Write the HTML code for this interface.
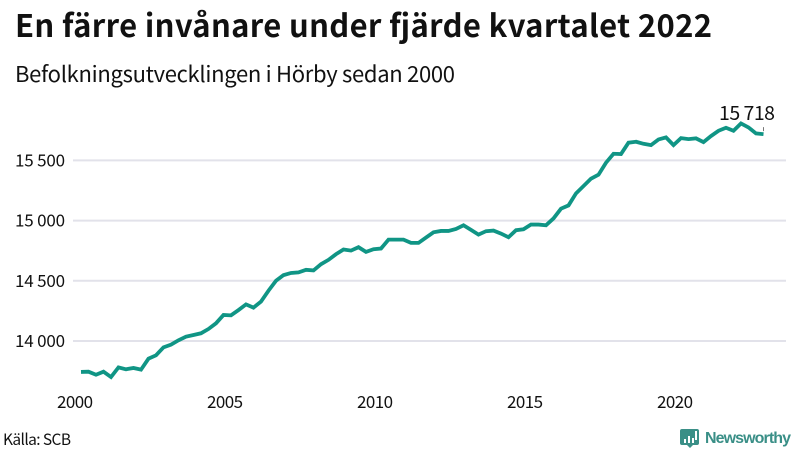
<!DOCTYPE html>
<html lang="sv">
<head>
<meta charset="utf-8">
<title>En färre invånare under fjärde kvartalet 2022</title>
<style>
html,body{margin:0;padding:0;background:#fff;width:800px;height:450px;overflow:hidden}
svg{display:block}
text{font-family:"Noto Sans CJK JP","Liberation Sans",sans-serif;fill:#111}
</style>
</head>
<body>
<svg id="chart" xmlns="http://www.w3.org/2000/svg" width="800" height="450" viewBox="0 0 800 450">
<text x="15" y="37" font-size="31" font-weight="700" textLength="697" lengthAdjust="spacing">En färre invånare under fjärde kvartalet 2022</text>
<text x="15" y="82" font-size="22" textLength="440" lengthAdjust="spacing">Befolkningsutvecklingen i Hörby sedan 2000</text>
<g id="grid"></g>
<g id="yaxis"></g>
<g id="xaxis"></g>
<g id="marks"></g>
<text x="3" y="445" font-size="15.5" textLength="68" lengthAdjust="spacing">Källa: SCB</text>
<g>
<path d="M682 429h15a2 2 0 0 1 2 2v12a2 2 0 0 1-2 2h-4l-3 3-3-3h-5a2 2 0 0 1-2-2v-12a2 2 0 0 1 2-2z" fill="#3a8f87"/>
<path d="M684 439h2v4h-2zM688 436h2v7h-2zM692 438h2v5h-2zM695 431h2v9h-2z" fill="#fff"/>
<text x="705" y="443" font-size="16" font-weight="700" style="font-family:'Liberation Sans',sans-serif;fill:#3a8f87" textLength="86" lengthAdjust="spacing">Newsworthy</text>
</g>
</svg>
<script>
const startYear = 2000;
const quartersPerYear = 4;
const population = [
13743,13745,13720,13745,13701,13781,13765,13776,13762,13853,13881,13947,
13970,14006,14036,14050,14064,14100,14147,14216,14213,14257,14304,14277,
14327,14418,14501,14547,14565,14570,14591,14586,14638,14674,14721,14760,
14751,14779,14740,14762,14768,14842,14842,14842,14815,14815,14859,14903,
14914,14914,14931,14961,14923,14884,14912,14917,14892,14862,14920,14928,
14967,14967,14961,15018,15099,15126,15226,15287,15348,15381,15481,15555,
15553,15647,15655,15638,15627,15674,15691,15627,15685,15677,15683,15652,
15702,15746,15771,15746,15807,15774,15724,15718
];
const yTicks = [14000,14500,15000,15500];
const yTickLabels = ["14 000","14 500","15 000","15 500"];
const xTicks = [2000,2005,2010,2015,2020];
const xTickLabels = ["2000","2005","2010","2015","2020"];
const lastLabel = "15 718";

const NS = "http://www.w3.org/2000/svg";
function xScale(yearFloat){ return 81 + (yearFloat - startYear) * 30; }
function yScale(v){ return 341 - (v - 14000) * 0.1204; }
function make(tag, attrs, parent){
  const el = document.createElementNS(NS, tag);
  for (const k in attrs) el.setAttribute(k, attrs[k]);
  parent.appendChild(el);
  return el;
}
const grid = document.getElementById("grid");
const yaxis = document.getElementById("yaxis");
const xaxis = document.getElementById("xaxis");
const marks = document.getElementById("marks");

yTicks.forEach(function(t, i){
  const ln = make("line", {x1:73, x2:786, y1:yScale(t), y2:yScale(t), stroke:"#e2e2ea", "stroke-width":2}, grid);
  
  
  const tx = make("text", {x:15, y:yScale(t)+6, "font-size":17, textLength:50, lengthAdjust:"spacing"}, yaxis);
  
  
  tx.textContent = yTickLabels[i];
});
xTicks.forEach(function(t, i){
  const tx = make("text", {x:xScale(t)-24, y:408, "font-size":17, textLength:36, lengthAdjust:"spacing"}, xaxis);
  
  
  tx.textContent = xTickLabels[i];
});
const pts = population.map(function(v, i){
  return xScale(startYear + i / quartersPerYear).toFixed(2) + "," + yScale(v).toFixed(2);
}).join(" ");
const line = make("polyline", {points:pts, fill:"none", stroke:"#109585", "stroke-width":3.8, "stroke-linejoin":"miter"}, marks);



const lastX = xScale(startYear + (population.length - 1) / quartersPerYear);
const lastY = yScale(population[population.length - 1]);
const tick = make("line", {x1:lastX, x2:lastX, y1:lastY-7, y2:lastY-3, stroke:"#555", "stroke-width":0.8}, marks);


const lbl = make("text", {x:719, y:lastY-14, "font-size":19.5, textLength:56, lengthAdjust:"spacing"}, marks);


lbl.textContent = lastLabel;
</script>
</body>
</html>
